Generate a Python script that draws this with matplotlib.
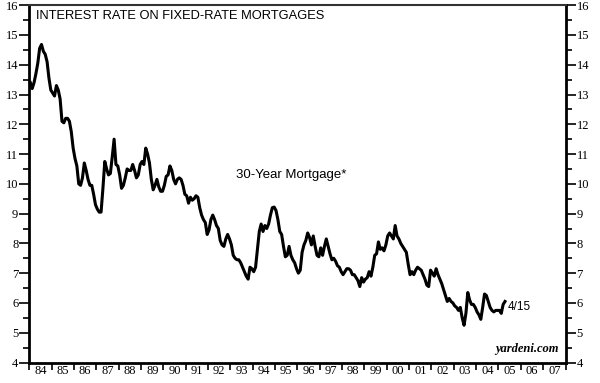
import matplotlib
matplotlib.use("Agg")
import matplotlib.pyplot as plt
import numpy as np

# 30-year fixed mortgage rate, monthly, Jan 1984 - Apr 2005
rate_1984 = [13.40, 13.20, 13.40, 13.70, 14.05, 14.55, 14.68, 14.45, 14.35, 14.10, 13.55, 13.15]
rate_1985 = [13.05, 12.95, 13.30, 13.15, 12.85, 12.10, 12.05, 12.20, 12.20, 12.10, 11.75, 11.20]
rate_1986 = [10.85, 10.60, 10.00, 9.95, 10.20, 10.70, 10.45, 10.15, 9.95, 9.95, 9.65, 9.30]
rate_1987 = [9.15, 9.05, 9.05, 9.85, 10.75, 10.50, 10.30, 10.35, 10.90, 11.50, 10.65, 10.60]
rate_1988 = [10.30, 9.85, 9.95, 10.20, 10.50, 10.45, 10.45, 10.65, 10.45, 10.20, 10.30, 10.65]
rate_1989 = [10.75, 10.65, 11.20, 11.00, 10.70, 10.15, 9.80, 9.95, 10.15, 9.90, 9.75, 9.75]
rate_1990 = [9.95, 10.25, 10.30, 10.60, 10.45, 10.15, 10.00, 10.15, 10.20, 10.15, 9.95, 9.65]
rate_1991 = [9.60, 9.35, 9.55, 9.45, 9.50, 9.60, 9.55, 9.20, 8.95, 8.80, 8.70, 8.30]
rate_1992 = [8.45, 8.80, 8.95, 8.80, 8.60, 8.50, 8.10, 7.95, 7.90, 8.15, 8.30, 8.15]
rate_1993 = [7.95, 7.60, 7.50, 7.45, 7.45, 7.35, 7.20, 7.05, 6.90, 6.80, 7.20, 7.15]
rate_1994 = [7.05, 7.20, 7.80, 8.40, 8.65, 8.40, 8.60, 8.50, 8.65, 8.95, 9.20, 9.22]
rate_1995 = [9.10, 8.80, 8.40, 8.30, 7.90, 7.55, 7.60, 7.90, 7.60, 7.45, 7.35, 7.15]
rate_1996 = [7.00, 7.10, 7.70, 7.95, 8.10, 8.35, 8.20, 7.95, 8.25, 7.90, 7.60, 7.55]
rate_1997 = [7.85, 7.60, 7.90, 8.15, 7.90, 7.65, 7.45, 7.50, 7.40, 7.25, 7.20, 7.05]
rate_1998 = [6.95, 7.05, 7.15, 7.15, 7.10, 6.95, 6.95, 6.85, 6.75, 6.55, 6.85, 6.70]
rate_1999 = [6.80, 6.85, 7.05, 6.90, 7.20, 7.60, 7.65, 8.05, 7.80, 7.85, 7.75, 7.95]
rate_2000 = [8.25, 8.35, 8.25, 8.15, 8.60, 8.25, 8.15, 8.00, 7.90, 7.80, 7.70, 7.30]
rate_2001 = [6.95, 7.05, 6.95, 7.10, 7.20, 7.15, 7.10, 6.95, 6.80, 6.60, 6.55, 7.10]
rate_2002 = [7.00, 6.90, 7.15, 6.95, 6.80, 6.65, 6.45, 6.25, 6.05, 6.15, 6.05, 6.00]
rate_2003 = [5.90, 5.85, 5.75, 5.85, 5.50, 5.25, 5.65, 6.35, 6.10, 5.95, 5.95, 5.85]
rate_2004 = [5.70, 5.60, 5.45, 5.85, 6.30, 6.25, 6.05, 5.85, 5.75, 5.70, 5.75, 5.75]
rate_2005 = [5.75, 5.65, 5.95, 6.05]

rates = (rate_1984 + rate_1985 + rate_1986 + rate_1987 + rate_1988 + rate_1989
         + rate_1990 + rate_1991 + rate_1992 + rate_1993 + rate_1994 + rate_1995
         + rate_1996 + rate_1997 + rate_1998 + rate_1999 + rate_2000 + rate_2001
         + rate_2002 + rate_2003 + rate_2004 + rate_2005)
dates = 1984 + (np.arange(len(rates)) + 0.5) / 12

year_labels = ['84', '85', '86', '87', '88', '89', '90', '91', '92', '93', '94', '95',
               '96', '97', '98', '99', '00', '01', '02', '03', '04', '05', '06', '07']

serif = 'Liberation Serif'
sans = 'Liberation Sans'

fig = plt.figure(figsize=(6.0, 3.83), dpi=100)
ax = fig.add_axes([0.049, 0.0535, 0.8935, 0.933])

ax.plot(dates, rates, color='black', linewidth=2.2, solid_joinstyle='round')

ax.set_xlim(1984, 2008)
ax.set_ylim(4, 16)

# x axis: ticks at year boundaries, labels centred in each year
ax.set_xticks(np.arange(1984, 2009))
ax.set_xticklabels([])
ax.set_xticks(np.arange(1984, 2008) + 0.5, minor=True)
ax.set_xticklabels(year_labels, minor=True, fontfamily=serif, fontsize=9)
ax.tick_params(axis='x', which='major', direction='out', length=5, width=1.2)
ax.tick_params(axis='x', which='minor', length=0, pad=2)

# y axis on both sides
ax.set_yticks(np.arange(4, 17))
ax.set_yticks(np.arange(4.5, 16, 1), minor=True)
ax.tick_params(axis='y', which='major', direction='out', length=7, width=1.2,
               left=True, right=True, labelleft=True, labelright=True, pad=1)
ax.tick_params(axis='y', which='minor', direction='out', length=4, width=1.2,
               left=True, right=True)
for lab in ax.get_yticklabels():
    lab.set_fontfamily(serif)
    lab.set_fontsize(9)

for side in ['left', 'right', 'bottom']:
    ax.spines[side].set_linewidth(2)
ax.spines['top'].set_linewidth(1.5)
ax.spines['top'].set_color('#333333')

ax.text(1984.3, 15.85, 'INTEREST RATE ON FIXED-RATE MORTGAGES', fontfamily=sans,
        fontsize=9.3, va='top', ha='left')
ax.text(1993.25, 10.3, '30-Year Mortgage*', fontfamily=sans, fontsize=9.5,
        va='center', ha='left')
ax.text(dates[-1] + 0.12, 5.88, '4/15', fontfamily=sans, fontsize=8.5,
        va='center', ha='left')
ax.text(2007.7, 4.25, 'yardeni.com', fontfamily=serif, fontsize=9,
        fontweight='bold', fontstyle='italic', va='bottom', ha='right')

fig.savefig('out.png', dpi=100)
